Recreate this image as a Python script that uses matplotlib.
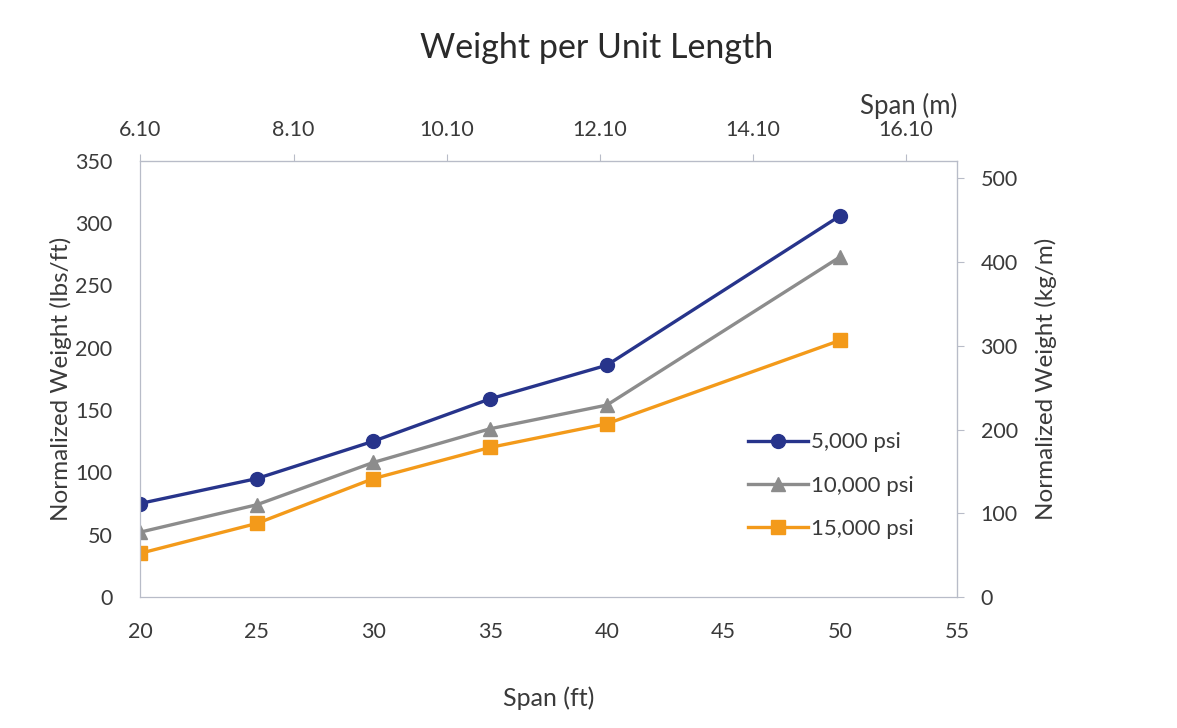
import matplotlib.pyplot as plt
from matplotlib.ticker import MultipleLocator, FormatStrFormatter

plt.rcParams['font.family'] = ['Lato', 'DejaVu Sans']

# spans (ft) and normalized weights (lbs/ft)
span_ft = [20, 25, 30, 35, 40, 50]
w_5000 = [75, 95, 125, 159, 186, 306]
w_10000 = [52, 74, 108, 135, 154, 273]
w_15000 = [35, 59, 95, 120, 139, 206]

FT_TO_M = 0.3048
LBFT_TO_KGM = 1.488164
txt = '#3a3a3a'
edge = '#b8bcc8'

fig = plt.figure(figsize=(11.77, 7.28), dpi=100)
ax = fig.add_axes([0.119, 0.180, 0.694, 0.599])

ax.plot(span_ft, w_5000, color='#27348b', lw=2.4, marker='o', ms=10, label='5,000 psi')
ax.plot(span_ft, w_10000, color='#8c8c8c', lw=2.4, marker='^', ms=10, label='10,000 psi')
ax.plot(span_ft, w_15000, color='#f39a1a', lw=2.4, marker='s', ms=9.5, label='15,000 psi')

ax.set_xlim(20, 55)
ax.set_ylim(0, 350)
ax.xaxis.set_major_locator(MultipleLocator(5))
ax.yaxis.set_major_locator(MultipleLocator(50))
ax.set_xlabel('Span (ft)', fontsize=18, color=txt)
ax.xaxis.set_label_coords(0.5, -0.205)
ax.set_ylabel('Normalized Weight (lbs/ft)', fontsize=17.5, color=txt, labelpad=2)

for s in ax.spines.values():
    s.set_color(edge)
    s.set_linewidth(0.9)
ax.tick_params(labelsize=15.5, colors=txt, length=0)
ax.tick_params(axis='x', pad=18)
ax.tick_params(axis='y', pad=20)

# metric axes on top and right
top = ax.secondary_xaxis('top', functions=(lambda x: x * FT_TO_M, lambda m: m / FT_TO_M))
top.set_xticks([6.10, 8.10, 10.10, 12.10, 14.10, 16.10])
top.xaxis.set_major_formatter(FormatStrFormatter('%.2f'))
top.tick_params(labelsize=15.5, colors=txt, length=5, width=0.8, color=edge, pad=10)
top.set_xlabel('Span (m)', fontsize=18.5, color=txt, loc='right', labelpad=4)
top.spines['top'].set_color(edge)

right = ax.secondary_yaxis('right', functions=(lambda w: w * LBFT_TO_KGM, lambda k: k / LBFT_TO_KGM))
right.set_yticks([0, 100, 200, 300, 400, 500])
right.tick_params(labelsize=15.5, colors=txt, length=5, width=0.8, color=edge, pad=12)
right.set_ylabel('Normalized Weight (kg/m)', fontsize=17.5, color=txt, labelpad=12)
right.spines['right'].set_color(edge)

leg = ax.legend(loc='upper left', bbox_to_anchor=(0.733, 0.398), frameon=False, fontsize=16,
                handlelength=2.7, handletextpad=0.15, labelspacing=1.05, labelcolor=txt,
                borderaxespad=0)

fig.suptitle('Weight per Unit Length', x=0.507, y=0.934, va='center', fontsize=24.5, color='#2a2a2a')

fig.savefig('out.png', dpi=100, facecolor='white')
